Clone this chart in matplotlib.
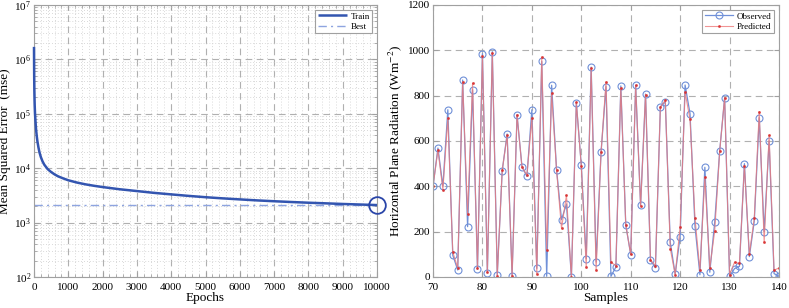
import matplotlib
matplotlib.use("Agg")
import matplotlib.pyplot as plt
from matplotlib.ticker import LogLocator, MultipleLocator, NullFormatter
import numpy as np

plt.rcParams['font.family'] = ['Liberation Serif', 'DejaVu Serif']
plt.rcParams['mathtext.fontset'] = 'stix'

# ---- Left panel data: training performance ----
epochs = [0, 3, 6, 10, 15, 20, 30, 45, 60, 80, 100, 130, 160, 200, 250, 300, 400, 500,
          600, 700, 850, 1000, 1250, 1500, 1750, 2000, 2500, 3000, 3500, 4000, 4500,
          5000, 5500, 6000, 6500, 7000, 7500, 8000, 8500, 9000, 9500, 10000]
train_mse = [1.7e6, 8.0e5, 4.5e5, 2.8e5, 1.9e5, 1.45e5, 1.0e5, 7.0e4, 5.2e4, 3.9e4, 3.1e4,
             2.4e4, 1.95e4, 1.6e4, 1.33e4, 1.16e4, 9.6e3, 8.5e3,
             7.7e3, 7.1e3, 6.5e3, 6.0e3, 5.45e3, 5.05e3, 4.75e3, 4.5e3, 4.1e3, 3.8e3,
             3.52e3, 3.3e3, 3.1e3, 2.93e3, 2.79e3, 2.67e3, 2.56e3, 2.47e3, 2.39e3,
             2.32e3, 2.26e3, 2.2e3, 2.15e3, 2.1e3]
best_epoch = 10000
best_mse = 2.1e3

# ---- Right panel data: observed vs predicted ----
samples = list(range(70, 141))
observed = [400, 569, 400, 738, 96, 31, 869, 222, 826, 35,
            985, 19, 994, 10, 469, 631, 6, 715, 487, 444,
            738, 38, 951, 3, 846, 473, 253, 322, 0, 769,
            494, 81, 926, 66, 550, 840, 3, 44, 843, 229,
            99, 846, 316, 807, 74, 41, 751, 773, 153, 12,
            178, 847, 721, 224, 10, 484, 21, 244, 556, 791,
            3, 37, 47, 500, 90, 247, 703, 199, 600, 15, 3]
predicted = [400, 560, 385, 700, 110, 40, 860, 280, 855, 40,
             975, 20, 990, 5, 470, 625, 5, 715, 485, 450,
             700, 15, 970, 120, 810, 470, 215, 360, 0, 770,
             490, 45, 920, 30, 550, 860, 65, 50, 835, 230,
             100, 845, 315, 805, 75, 50, 750, 780, 125, 10,
             220, 815, 695, 260, 30, 440, 40, 205, 555, 790,
             10, 65, 60, 490, 100, 260, 730, 155, 625, 30, 40]

W, H = 789, 308
fig = plt.figure(figsize=(W / 100, H / 100), dpi=100)

frame_col = '#a0a0a0'
grid_col = '#b0b0b0'
tick_fs = 8
label_fs = 9.5

# ---------- Left axes ----------
ax1 = fig.add_axes([34 / W, 1 - 277 / H, (377 - 34) / W, (277 - 5) / H])
ax1.set_yscale('log')
ax1.plot(epochs, train_mse, color='#3355b0', lw=1.8, label='Train', zorder=3,
         clip_on=False, solid_capstyle='butt')
ax1.plot([0, 10000], [best_mse, best_mse], color='#8ea4e0', lw=1.0,
         ls=(0, (6, 3, 1.5, 3)), label='Best')
ax1.plot([best_epoch], [best_mse], marker='o', ms=12, mfc='none', mec='#2a45a8',
         mew=1.3, ls='none', clip_on=False, zorder=4)
ax1.set_xlim(0, 10000)
ax1.set_ylim(1e2, 1e7)
ax1.xaxis.set_major_locator(MultipleLocator(1000))
ax1.xaxis.set_minor_locator(MultipleLocator(200))
ax1.yaxis.set_major_locator(LogLocator(base=10, numticks=10))
ax1.yaxis.set_minor_locator(LogLocator(base=10, subs=np.arange(2, 10), numticks=20))
ax1.yaxis.set_minor_formatter(NullFormatter())
ax1.grid(True, which='major', color=grid_col, ls=(0, (6, 4)), lw=0.8)
ax1.grid(True, which='minor', color='#cdcdcd', ls=(0, (1, 2.5)), lw=0.6)
ax1.set_xlabel('Epochs', fontsize=label_fs, labelpad=0)
ax1.set_ylabel('Mean Squared Error  (mse)', fontsize=label_fs, labelpad=2)
ax1.tick_params(which='both', direction='in', top=True, right=True, labelsize=tick_fs,
                color=frame_col, pad=2)
ax1.tick_params(axis='x', pad=4)
ax1.tick_params(which='minor', length=2)
for s in ax1.spines.values():
    s.set_color(frame_col)
leg1 = ax1.legend(loc='upper right', fontsize=6.5, fancybox=False, framealpha=1,
                  edgecolor=frame_col, handlelength=3.2, borderpad=0.3,
                  labelspacing=0.2, handletextpad=0.4, borderaxespad=0.5)
leg1.get_frame().set_linewidth(0.8)

# ---------- Right axes ----------
ax2 = fig.add_axes([433 / W, 1 - 277 / H, (779 - 433) / W, (277 - 5) / H])
ax2.plot(samples, observed, color='#7090d8', lw=0.9, marker='o', ms=5,
         mfc='none', mec='#7090d8', mew=0.8, label='Observed')
ax2.plot(samples, predicted, color='#ee7a7a', lw=0.8, alpha=0.8, marker='.',
         ms=2.2, mfc='#d83030', mec='#d83030', label='Predicted')
ax2.set_xlim(70, 140)
ax2.set_ylim(0, 1200)
ax2.xaxis.set_major_locator(MultipleLocator(10))
ax2.yaxis.set_major_locator(MultipleLocator(200))
ax2.grid(True, which='major', color=grid_col, ls=(0, (6, 4)), lw=0.8)
ax2.set_xlabel('Samples', fontsize=label_fs, labelpad=0)
ax2.set_ylabel('Horizontal Plane Radiation (Wm$^{-2}$)', fontsize=label_fs, labelpad=3)
ax2.tick_params(which='both', direction='in', top=True, right=True, labelsize=tick_fs,
                color=frame_col, pad=2)
ax2.tick_params(axis='x', pad=4)
for s in ax2.spines.values():
    s.set_color(frame_col)
leg2 = ax2.legend(loc='upper right', fontsize=6.5, fancybox=False, framealpha=1,
                  edgecolor=frame_col, handlelength=3.2, borderpad=0.3,
                  labelspacing=0.2, handletextpad=0.4, borderaxespad=0.5)
leg2.get_frame().set_linewidth(0.8)

fig.savefig('out.png', dpi=100)
